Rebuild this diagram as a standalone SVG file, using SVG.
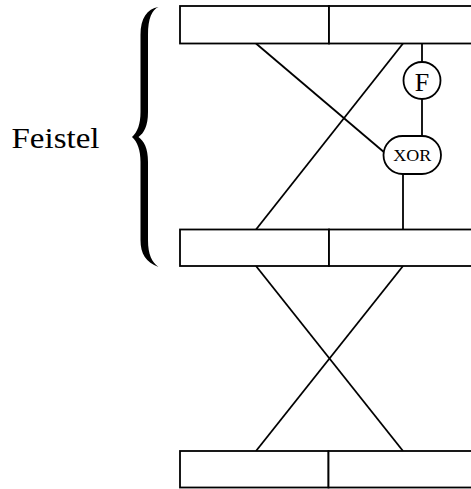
<svg xmlns="http://www.w3.org/2000/svg" width="471" height="489" viewBox="0 0 471 489">
<style>
.box{fill:#fff;stroke:#000;stroke-width:1.8}
.ln{fill:none;stroke:#000;stroke-width:1.8}
.t{font-family:"Liberation Serif","DejaVu Serif",serif;fill:#000}
</style>
<rect x="0" y="0" width="471" height="489" fill="#fff"/>
<g id="connectors">
<line class="ln" x1="256" y1="43.5" x2="385" y2="153"/>
<line class="ln" x1="403" y1="43.5" x2="256" y2="229.5"/>
<line class="ln" x1="422" y1="43.5" x2="422" y2="62"/>
<line class="ln" x1="422" y1="99" x2="422" y2="136"/>
<line class="ln" x1="403" y1="174" x2="403" y2="229.5"/>
<line class="ln" x1="256" y1="266" x2="403" y2="451"/>
<line class="ln" x1="403" y1="266" x2="256" y2="451"/>
</g>
<g id="block-top">
<rect class="box" x="180" y="6" width="149" height="37.5"/>
<rect class="box" x="329" y="6" width="149" height="37.5"/>
</g>
<g id="block-middle">
<rect class="box" x="180" y="229.5" width="149" height="36.5"/>
<rect class="box" x="329" y="229.5" width="149" height="36.5"/>
</g>
<g id="block-bottom">
<rect class="box" x="180" y="451" width="148.5" height="36.5"/>
<rect class="box" x="328.5" y="451" width="149.5" height="36.5"/>
</g>
<g id="node-F">
<circle class="box" cx="422" cy="80.5" r="18.5"/>
<text class="t" x="422" y="90.5" font-size="26" text-anchor="middle">F</text>
</g>
<g id="node-XOR">
<rect class="box" x="383.5" y="136" width="57.5" height="38" rx="19" ry="19"/>
<text class="t" x="412.3" y="160.5" font-size="16.5" text-anchor="middle" textLength="38" lengthAdjust="spacingAndGlyphs">XOR</text>
</g>
<g id="brace">
<path fill="#000" d="M158.5,7 C152,10 148,18 148,35 L148,112 C148,126 144,133 138.5,137 C144,141 148,148 148,162 L148,240 C148,255 152,262 158.5,267 C146,262 140.5,254 140.5,240 L140.5,162 C140.5,150 137.5,142 132,137 C137.5,132 140.5,124 140.5,112 L140.5,35 C140.5,18 147,9 158.5,7 Z"/>
</g>
<g id="label-feistel">
<text class="t" x="11.5" y="148" font-size="30" textLength="88" lengthAdjust="spacingAndGlyphs">Feistel</text>
</g>
</svg>
